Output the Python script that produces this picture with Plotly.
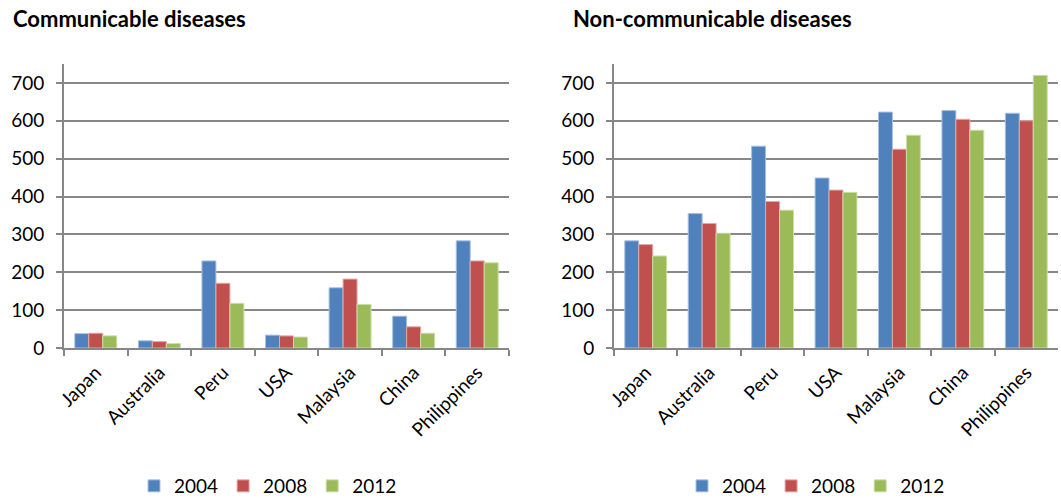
import plotly.graph_objects as go

countries = ["Japan", "Australia", "Peru", "USA", "Malaysia", "China", "Philippines"]
years = ["2004", "2008", "2012"]

comm_2004 = [38, 19, 230, 34, 159, 84, 283]
comm_2008 = [39, 17, 171, 32, 182, 56, 230]
comm_2012 = [32, 12, 118, 29, 115, 39, 225]

noncomm_2004 = [283, 355, 533, 449, 623, 627, 620]
noncomm_2008 = [273, 329, 387, 417, 525, 604, 600]
noncomm_2012 = [243, 303, 364, 411, 562, 575, 720]

titles = ["Communicable diseases", "Non-communicable diseases"]
colors = ["#4F81BD", "#C0504D", "#9BBB59"]
edge_colors = ["#A9C1E0", "#E0A9A7", "#CDDDAC"]

FONT = "Lato, Carlito, Calibri, sans-serif"
GRID = "#878787"

fig = go.Figure()
left_series = [comm_2004, comm_2008, comm_2012]
right_series = [noncomm_2004, noncomm_2008, noncomm_2012]

for i, (yr, vals) in enumerate(zip(years, left_series)):
    fig.add_trace(go.Bar(
        x=countries, y=vals, name=yr, xaxis="x", yaxis="y", legend="legend",
        marker=dict(color=colors[i], line=dict(color=edge_colors[i], width=1)),
        offsetgroup=str(i),
    ))
for i, (yr, vals) in enumerate(zip(years, right_series)):
    fig.add_trace(go.Bar(
        x=countries, y=vals, name=yr, xaxis="x2", yaxis="y2", legend="legend2",
        marker=dict(color=colors[i], line=dict(color=edge_colors[i], width=1)),
        offsetgroup=str(i),
    ))

ydom = [1 - 348 / 498, 1 - 64 / 498]

xaxis_common = dict(
    type="category", showline=True, linecolor=GRID, linewidth=2,
    ticks="outside", tickson="boundaries", ticklen=6, tickwidth=2, tickcolor=GRID,
    tickangle=-45, tickfont=dict(family=FONT, size=19, color="#000000"),
    showgrid=False, zeroline=False, fixedrange=True, automargin=False,
    ticklabelstandoff=4,
)
yaxis_common = dict(
    range=[0, 750], dtick=100, tick0=0, showline=True, linecolor=GRID, linewidth=2,
    ticks="outside", ticklen=6, tickwidth=2, tickcolor=GRID,
    showgrid=True, gridcolor=GRID, gridwidth=2, zeroline=False,
    tickfont=dict(family=FONT, size=19, color="#000000"), ticklabelstandoff=8,
    fixedrange=True, automargin=False,
)

legend_common = dict(orientation="h", y=1 - 486 / 498, yanchor="middle",
                     font=dict(family=FONT, size=19), itemwidth=30,
                     bgcolor="rgba(0,0,0,0)", xanchor="center")

fig.update_layout(
    width=1061, height=498,
    margin=dict(l=0, r=0, t=0, b=0, autoexpand=False),
    paper_bgcolor="white", plot_bgcolor="white",
    barmode="group", bargap=0.34, bargroupgap=0,
    font=dict(family=FONT, size=19, color="#000000"),
    xaxis=dict(domain=[64 / 1061, 509 / 1061], anchor="y", **xaxis_common),
    yaxis=dict(domain=ydom, anchor="x", **yaxis_common),
    xaxis2=dict(domain=[614 / 1061, 1058 / 1061], anchor="y2", **xaxis_common),
    yaxis2=dict(domain=ydom, anchor="x2", **yaxis_common),
    legend=dict(x=268 / 1061, **legend_common),
    legend2=dict(x=816 / 1061, **legend_common),
    annotations=[
        dict(text="<b>" + titles[0] + "</b>", x=11 / 1061, y=1 - 18 / 498, xref="paper", yref="paper",
             xanchor="left", yanchor="middle", showarrow=False, font=dict(family=FONT, size=22)),
        dict(text="<b>" + titles[1] + "</b>", x=571 / 1061, y=1 - 18 / 498, xref="paper", yref="paper",
             xanchor="left", yanchor="middle", showarrow=False, font=dict(family=FONT, size=22)),
    ],
)

fig.write_html("out.html")
